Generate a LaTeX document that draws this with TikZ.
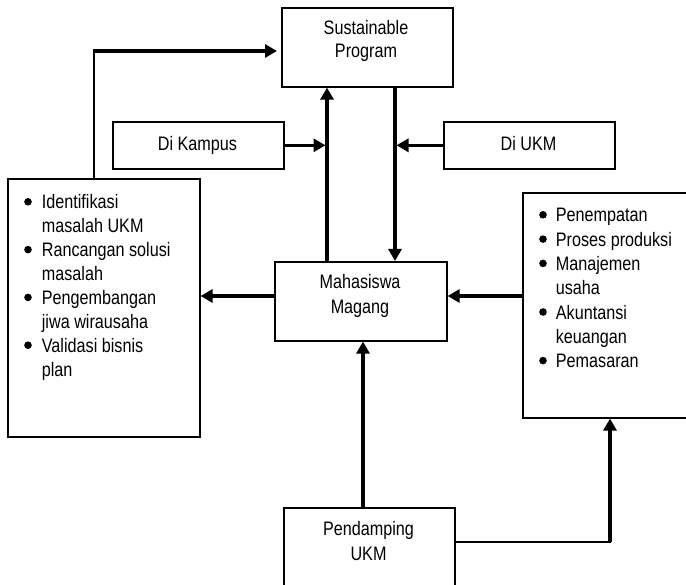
\documentclass[tikz,border=0pt]{standalone}
\usepackage{fontspec}
\setmainfont{Liberation Sans}[FakeStretch=0.83]
\usetikzlibrary{arrows.meta}

% round bullet mark for the two lists
\newcommand{\blt}{\tikz[x=1pt,y=1pt,baseline=0pt]\fill (3.8,7.2) circle (3.8);}

\begin{document}
\begin{tikzpicture}[x=1pt,y=-1pt,
  box/.style={draw, line width=1.6pt, inner sep=0pt, anchor=north west},
  txt/.style={inner sep=0pt, anchor=base},
  heavy/.style={line width=3.3pt, -{Triangle[length=12pt,width=13pt]}},
  light/.style={line width=1.8pt}]

\useasboundingbox (0,0) rectangle (686,585);
\begin{scope}
\clip (0,0) rectangle (686,585);

% ---- boxes ----
\node[box, minimum width=171pt, minimum height=79pt] (sp) at (281,7) {};
\node[box, minimum width=171pt, minimum height=47pt] (kampus) at (112,121) {};
\node[box, minimum width=171pt, minimum height=47pt] (ukm) at (443,121) {};
\node[box, minimum width=192pt, minimum height=258pt] (lbox) at (7,178) {};
\node[box, minimum width=172pt, minimum height=79pt] (mm) at (274,261) {};
\node[box, minimum width=178pt, minimum height=225pt] (rbox) at (522,192) {};
\node[box, minimum width=171pt, minimum height=95pt] (pd) at (283,507) {};

% ---- texts ----
\node[txt] (sptext) at (366,35)
  {\fontsize{19.5}{23}\selectfont\begin{tabular}[t]{@{}c@{}}Sustainable\\Program\end{tabular}};
\node[txt] (kampustext) at (197.5,151) {\fontsize{19.5}{23}\selectfont Di Kampus};
\node[txt] (ukmtext) at (528.5,151) {\fontsize{19.5}{23}\selectfont Di UKM};
\node[txt] (mmtext) at (360,289)
  {\fontsize{19.5}{25}\selectfont\begin{tabular}[t]{@{}c@{}}Mahasiswa\\Magang\end{tabular}};
\node[txt] (pdtext) at (368.5,535)
  {\fontsize{19.5}{25}\selectfont\begin{tabular}[t]{@{}c@{}}Pendamping\\UKM\end{tabular}};

\node[txt, anchor=base west] (ltext) at (24,209)
  {\fontsize{19.5}{23.9}\selectfont\begin{tabular}[t]{@{}p{17.7pt}@{}l@{}}
    \blt & Identifikasi\\
         & masalah UKM\\
    \blt & Rancangan solusi\\
         & masalah\\
    \blt & Pengembangan\\
         & jiwa wirausaha\\
    \blt & Validasi bisnis\\
         & plan
  \end{tabular}};

\node[txt, anchor=base west] (rtext) at (539,222)
  {\fontsize{19.5}{24.3}\selectfont\begin{tabular}[t]{@{}p{16.7pt}@{}l@{}}
    \blt & Penempatan\\
    \blt & Proses produksi\\
    \blt & Manajemen\\
         & usaha\\
    \blt & Akuntansi\\
         & keuangan\\
    \blt & Pemasaran
  \end{tabular}};

% ---- connectors ----
\coordinate (bend1) at (94,51);
\coordinate (upx) at (327,0);
\coordinate (dnx) at (395,0);
\coordinate (midy) at (0,296);
\coordinate (pdx) at (363,0);
\coordinate (bend2) at (610,542);

\draw[light] (bend1 |- lbox.north) -- (bend1);
\draw[heavy, shorten >=4pt] ([xshift=-0.9pt]bend1) -- (bend1 -| sp.west);

\draw[heavy] (upx |- mm.north) -- (upx |- sp.south);
\draw[heavy] (dnx |- sp.south) -- (dnx |- mm.north);

\draw[heavy, shorten >=1.5pt] (kampus.east) -- (kampus.east -| upx);
\draw[heavy, shorten >=1.5pt] (ukm.west) -- (ukm.west -| dnx);

\draw[heavy] (mm.west |- midy) -- (lbox.east |- midy);
\draw[heavy] (rbox.west |- midy) -- (mm.east |- midy);

\draw[heavy] (pdx |- pd.north) -- (pdx |- mm.south);

\draw[light] (pd.east |- bend2) -- ([xshift=0.9pt]bend2);
\draw[heavy] (bend2) -- (bend2 |- rbox.south);
\end{scope}
\end{tikzpicture}
\end{document}
